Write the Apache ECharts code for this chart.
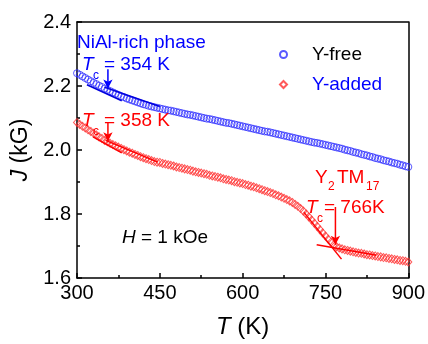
<!DOCTYPE html>
<html>
<head>
<meta charset="utf-8">
<script src="https://cdn.jsdelivr.net/npm/echarts@6/dist/echarts.min.js"></script>
<style>
  html, body { margin: 0; padding: 0; background: #fff; }
  #chart { width: 428px; height: 344px; }
</style>
</head>
<body>
<div id="chart"></div>
<script>
// temperature (K), read every 5 K
const tempK = [
  300, 305, 310, 315, 320, 325, 330, 335, 340, 345, 350, 355, 360, 365, 370, 375, 380, 385, 390, 395,
  400, 405, 410, 415, 420, 425, 430, 435, 440, 445, 450, 455, 460, 465, 470, 475, 480, 485, 490, 495,
  500, 505, 510, 515, 520, 525, 530, 535, 540, 545, 550, 555, 560, 565, 570, 575, 580, 585, 590, 595,
  600, 605, 610, 615, 620, 625, 630, 635, 640, 645, 650, 655, 660, 665, 670, 675, 680, 685, 690, 695,
  700, 705, 710, 715, 720, 725, 730, 735, 740, 745, 750, 755, 760, 765, 770, 775, 780, 785, 790, 795,
  800, 805, 810, 815, 820, 825, 830, 835, 840, 845, 850, 855, 860, 865, 870, 875, 880, 885, 890, 895,
  900
];
// J (kG), Y-free
const jFree = [
  2.240, 2.235, 2.230, 2.225, 2.220, 2.215, 2.210, 2.206, 2.201, 2.197, 2.192, 2.188, 2.184, 2.180, 2.176, 2.172, 2.168, 2.165, 2.161, 2.158,
  2.155, 2.152, 2.149, 2.146, 2.143, 2.141, 2.138, 2.136, 2.134, 2.132, 2.130, 2.128, 2.126, 2.124, 2.123, 2.121, 2.119, 2.117, 2.115, 2.113,
  2.111, 2.110, 2.108, 2.106, 2.104, 2.102, 2.100, 2.098, 2.097, 2.095, 2.093, 2.091, 2.089, 2.087, 2.085, 2.084, 2.082, 2.080, 2.078, 2.076,
  2.074, 2.072, 2.070, 2.068, 2.066, 2.064, 2.062, 2.060, 2.058, 2.057, 2.055, 2.053, 2.051, 2.049, 2.047, 2.045, 2.043, 2.041, 2.039, 2.037,
  2.035, 2.033, 2.031, 2.029, 2.027, 2.025, 2.023, 2.022, 2.020, 2.018, 2.016, 2.014, 2.012, 2.010, 2.008, 2.006, 2.004, 2.001, 1.999, 1.997,
  1.994, 1.992, 1.990, 1.987, 1.985, 1.983, 1.980, 1.978, 1.975, 1.973, 1.971, 1.968, 1.966, 1.964, 1.961, 1.959, 1.957, 1.954, 1.952, 1.949,
  1.947
];
// J (kG), Y-added
const jAdded = [
  2.086, 2.080, 2.074, 2.069, 2.063, 2.058, 2.052, 2.047, 2.041, 2.036, 2.030, 2.026, 2.021, 2.017, 2.013, 2.009, 2.005, 2.001, 1.997, 1.993,
  1.990, 1.986, 1.983, 1.979, 1.976, 1.973, 1.970, 1.967, 1.964, 1.962, 1.961, 1.958, 1.956, 1.954, 1.952, 1.950, 1.947, 1.945, 1.943, 1.941,
  1.939, 1.937, 1.934, 1.932, 1.930, 1.928, 1.926, 1.924, 1.921, 1.919, 1.917, 1.915, 1.913, 1.910, 1.908, 1.906, 1.904, 1.901, 1.899, 1.897,
  1.895, 1.892, 1.890, 1.887, 1.885, 1.882, 1.879, 1.876, 1.873, 1.870, 1.867, 1.864, 1.860, 1.857, 1.853, 1.849, 1.845, 1.841, 1.836, 1.830,
  1.824, 1.817, 1.809, 1.800, 1.791, 1.781, 1.771, 1.761, 1.751, 1.741, 1.731, 1.721, 1.712, 1.704, 1.698, 1.694, 1.691, 1.688, 1.686, 1.684,
  1.682, 1.680, 1.678, 1.677, 1.675, 1.673, 1.672, 1.670, 1.669, 1.667, 1.666, 1.664, 1.663, 1.661, 1.660, 1.658, 1.657, 1.655, 1.654, 1.652,
  1.650
];

// tangent lines used to find Tc  [[T1, J1], [T2, J2]]
const blueTanA = [[318, 2.204], [381, 2.154]];
const blueTanB = [[350, 2.196], [450, 2.136]];
const redTanA = [[329, 2.041], [381, 1.991]];
const redTanB = [[352, 2.030], [446, 1.962]];
const redTanC = [[711, 1.805], [779, 1.659]];
const redTanD = [[734, 1.704], [842, 1.671]];
// arrows pointing at Tc  [[T, Jtop], [T, Jtip]]
const blueArrow = [[356, 2.252], [356, 2.192]];
const redArrow = [[356, 2.086], [356, 2.027]];
const redArrow2 = [[768, 1.822], [768, 1.704]];

const xTicks = { min: 300, max: 900, step: 150 };
const yTicks = { min: 1.6, max: 2.4, step: 0.2 };

const FONT = '"Liberation Sans", Arial, sans-serif';
const BLUE = '#0000ff';
const RED = '#ff0000';

const pair = (xs, ys) => xs.map((x, i) => [x, ys[i]]);

const tanLine = (data, color) => ({
  type: 'line',
  data: data,
  showSymbol: false,
  silent: true,
  lineStyle: { color: color, width: 1.5 },
  z: 5,
});

const arrow = (data, color) => ({
  type: 'line',
  data: data,
  showSymbol: false,
  silent: true,
  lineStyle: { color: color, width: 1.5 },
  z: 6,
  markLine: {
    silent: true,
    symbol: ['none', 'arrow'],
    symbolSize: [7, 9],
    label: { show: false },
    lineStyle: { color: color, width: 0, type: 'solid' },
    data: [[{ coord: data[0] }, { coord: data[1] }]],
  },
});

const axisBase = {
  axisLine: { show: true, onZero: false, lineStyle: { color: '#000', width: 1.5 } },
  splitLine: { show: false },
};

const txt = (x, y, text, size, color, italic) => ({
  type: 'text',
  x: x,
  y: y,
  silent: true,
  style: {
    text: text,
    fill: color,
    font: (italic ? 'italic ' : '') + size + 'px ' + FONT,
    verticalAlign: 'middle',
  },
  z: 100,
});

const myChart = echarts.init(document.getElementById('chart'));

const option = {
  animation: false,
  grid: { left: 77, right: 18, top: 22, bottom: 53 },
  legend: {
    orient: 'vertical',
    left: 274,
    top: 40,
    itemWidth: 7,
    itemHeight: 7,
    itemGap: 11,
    textStyle: { fontFamily: FONT, fontSize: 19, padding: [0, 0, 0, 20] },
    data: [
      { name: 'Y-free', icon: 'circle', textStyle: { color: '#000' } },
      { name: 'Y-added', icon: 'diamond', textStyle: { color: BLUE } },
    ],
  },
  xAxis: [
    Object.assign({}, axisBase, {
      type: 'value',
      position: 'bottom',
      min: xTicks.min,
      max: xTicks.max,
      interval: xTicks.step,
      axisTick: { show: true, inside: true, length: 5, lineStyle: { color: '#000', width: 1.5 } },
      minorTick: { show: true, splitNumber: 2, length: 3, lineStyle: { color: '#000', width: 1.5 } },
      axisLabel: { color: '#000', fontFamily: FONT, fontSize: 20, margin: 5 },
      name: '{i|T} (K)',
      nameLocation: 'middle',
      nameGap: 37,
      nameTextStyle: {
        color: '#000', fontFamily: FONT, fontSize: 24,
        rich: { i: { fontStyle: 'italic', fontFamily: FONT, fontSize: 24, color: '#000' } },
      },
    }),
    Object.assign({}, axisBase, {
      type: 'value',
      position: 'top',
      min: xTicks.min,
      max: xTicks.max,
      axisTick: { show: false },
      axisLabel: { show: false },
    }),
  ],
  yAxis: [
    Object.assign({}, axisBase, {
      type: 'value',
      position: 'left',
      min: yTicks.min,
      max: yTicks.max,
      interval: yTicks.step,
      axisTick: { show: true, inside: true, length: 5, lineStyle: { color: '#000', width: 1.5 } },
      minorTick: { show: true, splitNumber: 2, length: 3, lineStyle: { color: '#000', width: 1.5 } },
      axisLabel: {
        color: '#000', fontFamily: FONT, fontSize: 20, margin: 6,
        formatter: (v) => v.toFixed(1),
      },
      name: '{i|J} (kG)',
      nameLocation: 'middle',
      nameRotate: 90,
      nameGap: 36,
      nameTextStyle: {
        color: '#000', fontFamily: FONT, fontSize: 23,
        rich: { i: { fontStyle: 'italic', fontFamily: FONT, fontSize: 23, color: '#000' } },
      },
    }),
    Object.assign({}, axisBase, {
      type: 'value',
      position: 'right',
      min: yTicks.min,
      max: yTicks.max,
      axisTick: { show: false },
      axisLabel: { show: false },
    }),
  ],
  series: [
    {
      name: 'Y-free',
      type: 'scatter',
      data: pair(tempK, jFree),
      symbol: 'circle',
      symbolSize: 7,
      itemStyle: { color: 'rgba(0,0,0,0)', borderColor: '#3030ff', borderWidth: 1 },
      z: 3,
    },
    {
      name: 'Y-added',
      type: 'scatter',
      data: pair(tempK, jAdded),
      symbol: 'diamond',
      symbolSize: [7, 8],
      itemStyle: { color: 'rgba(0,0,0,0)', borderColor: '#ff3030', borderWidth: 1 },
      z: 3,
    },
    tanLine(blueTanA, '#0000dd'),
    tanLine(blueTanB, '#0000dd'),
    tanLine(redTanA, RED),
    tanLine(redTanB, RED),
    tanLine(redTanC, RED),
    tanLine(redTanD, RED),
    arrow(blueArrow, BLUE),
    arrow(redArrow, RED),
    arrow(redArrow2, RED),
  ],
  graphic: [
    txt(77, 43, 'NiAl-rich phase', 19, BLUE),
    txt(82, 65, 'T', 19, BLUE, true),
    txt(93, 76, 'c', 12, BLUE),
    txt(104, 65, '= 354 K', 19, BLUE),
    txt(82, 121, 'T', 19, RED, true),
    txt(93, 132, 'c', 12, RED),
    txt(104, 121, '= 358 K', 19, RED),
    txt(315, 178, 'Y', 19, RED),
    txt(328, 187, '2', 12, RED),
    txt(337, 178, 'TM', 19, RED),
    txt(366, 187, '17', 12, RED),
    txt(306, 208, 'T', 19, RED, true),
    txt(317, 219, 'c', 12, RED),
    txt(324, 208, '= 766K', 19, RED),
    txt(122, 238, 'H', 19, '#000', true),
    txt(141, 238, '= 1 kOe', 19, '#000'),
  ],
};

myChart.setOption(option);
</script>
</body>
</html>
